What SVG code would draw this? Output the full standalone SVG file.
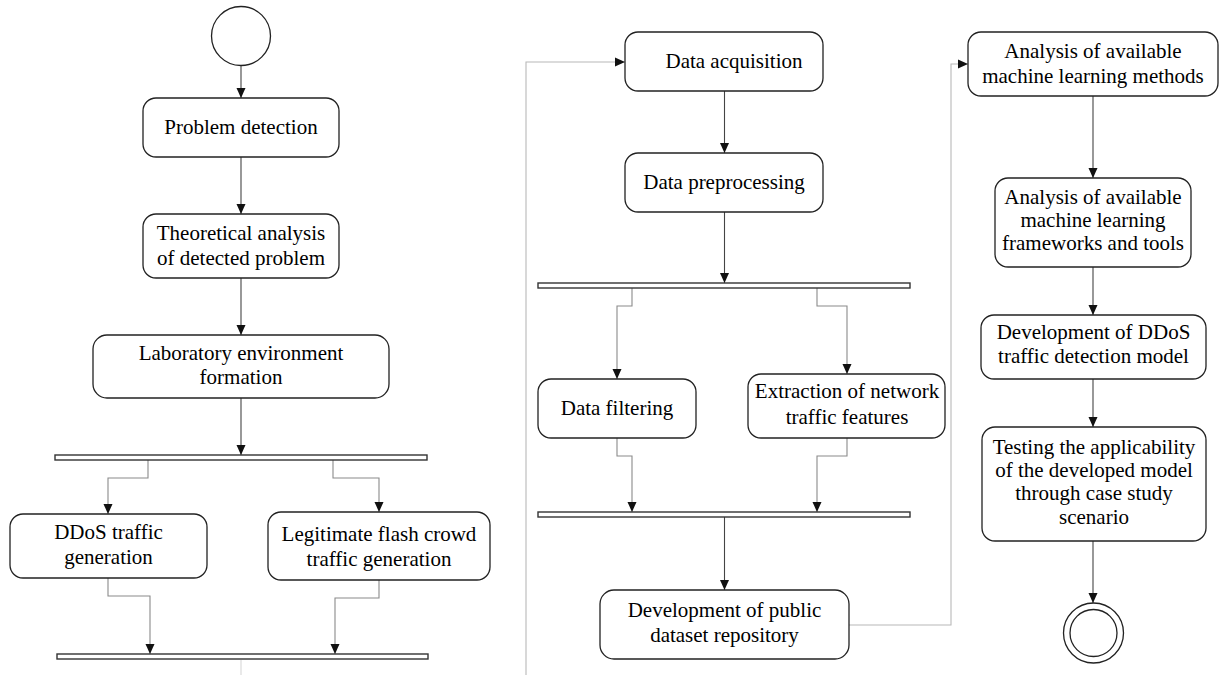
<svg xmlns="http://www.w3.org/2000/svg" width="1219" height="675" viewBox="0 0 1219 675">
<style>
.box{fill:#fff;stroke:#222;stroke-width:1.3}
.bar{fill:#fff;stroke:#333;stroke-width:1.4}
.circ{fill:#fff;stroke:#222;stroke-width:1.3}
.t{font-family:'Liberation Serif','DejaVu Serif',serif;font-size:21px;fill:#000;text-anchor:middle}
.c{fill:none;stroke:#444;stroke-width:1.1}
.g{fill:none;stroke:#8a8a8a;stroke-width:1.1}
.l{fill:none;stroke:#b8b8b8;stroke-width:1.1}
.s{fill:none;stroke:#e2e2e2;stroke-width:1.5}
</style>
<defs>
<marker id="ah" markerUnits="userSpaceOnUse" markerWidth="10" markerHeight="10" viewBox="0 0 10 10" refX="10" refY="5" orient="auto">
<path d="M0,0.5 L10,5 L0,9.5 z" fill="#111"/>
</marker>
</defs>
<rect width="1219" height="675" fill="#fff"/>

<g id="connectors">
<path class="c" d="M241,66 V98" marker-end="url(#ah)"/>
<path class="c" d="M241,157 V214" marker-end="url(#ah)"/>
<path class="c" d="M241,278 V335" marker-end="url(#ah)"/>
<path class="c" d="M241,398 V455" marker-end="url(#ah)"/>
<path class="g" d="M148,460 V478 H108 V514" marker-end="url(#ah)"/>
<path class="g" d="M333,460 V478 H379 V512" marker-end="url(#ah)"/>
<path class="g" d="M108,578 V596 H150 V654" marker-end="url(#ah)"/>
<path class="g" d="M379,580 V598 H335 V654" marker-end="url(#ah)"/>
<path class="s" d="M241,660 V675"/>
<path class="l" d="M526,675 V62 H625" marker-end="url(#ah)"/>
<path class="c" d="M724.5,91 V153" marker-end="url(#ah)"/>
<path class="c" d="M724.5,212 V283" marker-end="url(#ah)"/>
<path class="g" d="M632,288 V306 H617 V379" marker-end="url(#ah)"/>
<path class="g" d="M817,288 V306 H847 V374" marker-end="url(#ah)"/>
<path class="g" d="M617,438 V456 H632 V512" marker-end="url(#ah)"/>
<path class="g" d="M847,438 V456 H817 V512" marker-end="url(#ah)"/>
<path class="c" d="M724.5,517 V590" marker-end="url(#ah)"/>
<path class="l" d="M849,625 H951 V64 H968" marker-end="url(#ah)"/>
<path class="c" d="M1093,96 V178" marker-end="url(#ah)"/>
<path class="c" d="M1093,267 V315" marker-end="url(#ah)"/>
<path class="c" d="M1093,379 V427" marker-end="url(#ah)"/>
<path class="c" d="M1093,541 V603" marker-end="url(#ah)"/>
</g>

<g font-family="'Liberation Serif', 'DejaVu Serif', serif" font-size="21" text-anchor="middle">
<g id="start"><circle class="circ" cx="241" cy="36" r="29.5"/></g>
<g id="problem-detection"><rect class="box" x="143" y="98" width="196" height="59" rx="13"/><text class="t" x="241" y="134">Problem detection</text></g>
<g id="theoretical-analysis"><rect class="box" x="143" y="214" width="196" height="64" rx="13"/><text class="t" x="241" y="240">Theoretical analysis</text><text class="t" x="241" y="265">of detected problem</text></g>
<g id="laboratory"><rect class="box" x="93" y="335" width="296" height="63" rx="14"/><text class="t" x="241" y="360">Laboratory environment</text><text class="t" x="241" y="384">formation</text></g>
<g id="fork1"><rect class="bar" x="55" y="455" width="372" height="5"/></g>
<g id="ddos-generation"><rect class="box" x="10" y="514" width="197" height="64" rx="13"/><text class="t" x="108.5" y="539">DDoS traffic</text><text class="t" x="108.5" y="564">generation</text></g>
<g id="flash-crowd"><rect class="box" x="268" y="512" width="222" height="68" rx="13"/><text class="t" x="379" y="541">Legitimate flash crowd</text><text class="t" x="379" y="566">traffic generation</text></g>
<g id="join1"><rect class="bar" x="57" y="654" width="371" height="5"/></g>

<g id="data-acquisition"><rect class="box" x="625" y="32" width="198" height="59" rx="13"/><text class="t" x="734" y="68">Data acquisition</text></g>
<g id="data-preprocessing"><rect class="box" x="625" y="153" width="198" height="59" rx="13"/><text class="t" x="724" y="189">Data preprocessing</text></g>
<g id="fork2"><rect class="bar" x="538" y="283" width="372" height="5"/></g>
<g id="data-filtering"><rect class="box" x="538" y="379" width="158" height="59" rx="13"/><text class="t" x="617" y="415">Data filtering</text></g>
<g id="feature-extraction"><rect class="box" x="748" y="374" width="197" height="64" rx="13"/><text class="t" x="847" y="398">Extraction of network</text><text class="t" x="847" y="424">traffic features</text></g>
<g id="join2"><rect class="bar" x="538" y="512" width="372" height="5"/></g>
<g id="dataset-repository"><rect class="box" x="600" y="590" width="249" height="69" rx="14"/><text class="t" x="724.5" y="617">Development of public</text><text class="t" x="724.5" y="642">dataset repository</text></g>

<g id="ml-methods"><rect class="box" x="968" y="32" width="250" height="64" rx="13"/><text class="t" x="1093" y="58">Analysis of available</text><text class="t" x="1093" y="83">machine learning methods</text></g>
<g id="ml-frameworks"><rect class="box" x="995" y="178" width="196" height="89" rx="13"/><text class="t" x="1093" y="204">Analysis of available</text><text class="t" x="1093" y="227">machine learning</text><text class="t" x="1093" y="250">frameworks and tools</text></g>
<g id="detection-model"><rect class="box" x="981" y="315" width="225" height="64" rx="13"/><text class="t" x="1093.5" y="339">Development of DDoS</text><text class="t" x="1093.5" y="363">traffic detection model</text></g>
<g id="testing"><rect class="box" x="982" y="427" width="224" height="114" rx="13"/><text class="t" x="1094" y="454">Testing the applicability</text><text class="t" x="1094" y="477">of the developed model</text><text class="t" x="1094" y="500">through case study</text><text class="t" x="1094" y="524">scenario</text></g>
<g id="end"><circle class="circ" cx="1093.5" cy="633" r="30"/><circle class="circ" cx="1093.5" cy="633" r="23.5"/></g>
</g>
</svg>
